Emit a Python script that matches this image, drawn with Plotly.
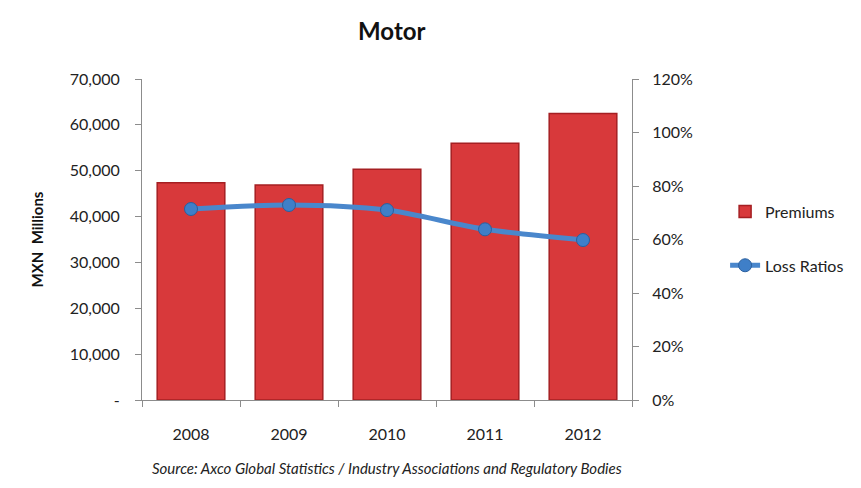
import plotly.graph_objects as go

years = ["2008", "2009", "2010", "2011", "2012"]
premiums = [47400, 46900, 50300, 56000, 62500]
loss_ratios = [0.714, 0.729, 0.710, 0.638, 0.598]

left_ticks = [0, 10000, 20000, 30000, 40000, 50000, 60000, 70000]
left_labels = ["-", "10,000", "20,000", "30,000", "40,000", "50,000", "60,000", "70,000"]
right_ticks = [0, 0.2, 0.4, 0.6, 0.8, 1.0, 1.2]
right_labels = ["0%", "20%", "40%", "60%", "80%", "100%", "120%"]

FONT = "Lato, Calibri, Arial, sans-serif"

fig = go.Figure()
fig.add_trace(go.Bar(
    x=years, y=premiums, name="Premiums",
    marker=dict(color="#d8393b", line=dict(color="#a51f22", width=1.5)),
    width=0.69, legendgroup="a",
))
fig.add_trace(go.Scatter(
    x=years, y=loss_ratios, name="Loss Ratios", yaxis="y2",
    mode="lines+markers",
    line=dict(color="#4a87cc", width=5, shape="spline", smoothing=0.8),
    marker=dict(size=13, color="#3f7fc8", line=dict(color="#2a5f9e", width=1)),
    legendgroup="b",
))

axis_line = dict(showline=True, linecolor="#8c8c8c", linewidth=1,
                 ticks="outside", tickcolor="#8c8c8c", ticklen=6,
                 showgrid=False, zeroline=False)

fig.update_layout(
    width=861, height=488,
    margin=dict(l=142, r=226, t=79, b=88),
    paper_bgcolor="white", plot_bgcolor="white",
    font=dict(family=FONT, size=16, color="#222222"),
    title=dict(text="<b>Motor</b>", x=0.455, xanchor="center", y=0.935,
               yanchor="middle", font=dict(size=24, color="#111111")),
    xaxis=dict(**axis_line, tickson="boundaries", tickfont=dict(size=16),
               ticklabelstandoff=20),
    yaxis=dict(**axis_line, range=[0, 70000], tickvals=left_ticks,
               ticktext=left_labels, tickfont=dict(size=16),
               ticklabelstandoff=12,
               title=dict(text="<b>MXN  Millions</b>", standoff=22,
                          font=dict(size=15, color="#111111"))),
    yaxis2=dict(**axis_line, overlaying="y", side="right", range=[0, 1.2],
                tickvals=right_ticks, ticktext=right_labels,
                tickfont=dict(size=16), ticklabelstandoff=10),
    legend=dict(x=1.19, y=0.64, xanchor="left", yanchor="top",
                traceorder="grouped", tracegroupgap=30,
                font=dict(size=16, color="#222222"), bgcolor="rgba(0,0,0,0)"),
    bargap=0.31,
    annotations=[dict(
        text="<i>Source: Axco Global Statistics / Industry Associations and Regulatory Bodies</i>",
        xref="paper", yref="paper", x=0.5, y=-0.212, xanchor="center",
        yanchor="middle", showarrow=False, font=dict(size=15, color="#222222"),
    )],
)

fig.write_html("out.html")
